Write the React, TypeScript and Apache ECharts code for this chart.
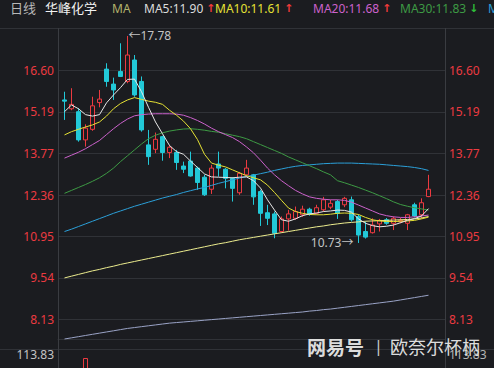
import React, { useEffect, useRef } from 'react';
import * as echarts from 'echarts';

// [open, close, low, high]
const candles: number[][] = [
  [15.60, 15.56, 14.92, 15.88],
  [15.30, 15.45, 15.25, 16.00],
  [15.20, 14.24, 14.18, 15.32],
  [14.24, 14.64, 14.01, 14.77],
  [14.60, 15.40, 14.55, 15.71],
  [15.51, 15.63, 15.35, 15.94],
  [16.65, 16.23, 16.05, 16.85],
  [16.14, 15.94, 15.60, 16.36],
  [16.57, 16.40, 16.38, 17.53],
  [16.23, 17.13, 16.17, 17.78],
  [16.96, 15.77, 15.71, 17.13],
  [16.23, 14.58, 14.52, 16.40],
  [14.07, 13.67, 13.39, 14.58],
  [13.92, 14.26, 13.79, 14.49],
  [14.35, 13.81, 13.53, 14.38],
  [13.81, 13.99, 13.62, 14.07],
  [13.81, 13.47, 13.22, 13.90],
  [13.35, 13.24, 13.11, 13.50],
  [13.52, 13.01, 12.99, 13.84],
  [13.28, 12.79, 12.54, 13.33],
  [12.97, 12.37, 12.33, 13.05],
  [12.56, 13.28, 12.40, 13.39],
  [13.42, 13.28, 12.99, 13.84],
  [13.24, 12.93, 12.59, 13.28],
  [12.93, 12.59, 12.14, 12.97],
  [12.44, 13.10, 12.37, 13.15],
  [13.05, 13.28, 12.97, 13.56],
  [13.05, 12.30, 12.03, 13.08],
  [12.48, 11.74, 11.31, 12.54],
  [11.76, 11.57, 11.34, 12.03],
  [11.72, 11.06, 10.89, 11.80],
  [11.12, 11.55, 11.08, 11.63],
  [11.55, 11.72, 11.15, 11.86],
  [11.57, 11.80, 11.52, 11.97],
  [11.69, 11.88, 11.62, 12.00],
  [11.88, 11.72, 11.66, 11.93],
  [11.74, 11.93, 11.70, 12.03],
  [11.86, 12.20, 11.80, 12.30],
  [11.95, 12.08, 11.88, 12.20],
  [12.14, 11.74, 11.55, 12.20],
  [12.03, 12.25, 11.95, 12.30],
  [12.20, 11.52, 11.46, 12.31],
  [11.63, 11.00, 10.73, 11.70],
  [11.12, 10.93, 10.88, 11.46],
  [11.08, 11.34, 11.05, 11.57],
  [11.38, 11.50, 11.12, 11.55],
  [11.52, 11.40, 11.35, 11.58],
  [11.40, 11.57, 11.17, 11.63],
  [11.45, 11.50, 11.40, 11.58],
  [11.40, 11.69, 11.17, 11.72],
  [12.03, 11.65, 11.60, 12.10],
  [11.69, 12.10, 11.57, 12.25],
  [12.31, 12.56, 12.29, 13.05],
];

const ma5 = [15.20, 15.43, 15.30, 15.10, 15.05, 15.10, 15.50, 15.77, 16.02, 16.30, 16.31, 15.88, 15.35, 14.85, 14.45, 14.05, 13.84, 13.75, 13.52, 13.30, 13.08, 12.98, 12.97, 12.96, 12.95, 12.97, 12.98, 12.85, 12.60, 12.20, 11.85, 11.52, 11.47, 11.55, 11.66, 11.72, 11.75, 11.80, 11.82, 11.85, 11.84, 11.78, 11.55, 11.40, 11.32, 11.28, 11.30, 11.34, 11.42, 11.50, 11.56, 11.65, 11.90];
const ma10 = [14.41, 14.52, 14.60, 14.68, 14.75, 14.85, 15.05, 15.30, 15.48, 15.60, 15.68, 15.62, 15.56, 15.52, 15.45, 15.25, 15.08, 14.88, 14.62, 14.25, 13.75, 13.45, 13.38, 13.32, 13.22, 13.12, 13.02, 12.95, 12.88, 12.70, 12.45, 12.18, 11.92, 11.80, 11.74, 11.70, 11.69, 11.69, 11.71, 11.74, 11.75, 11.74, 11.70, 11.60, 11.52, 11.48, 11.46, 11.46, 11.47, 11.48, 11.50, 11.55, 11.61];
const ma20 = [13.62, 13.72, 13.82, 13.94, 14.08, 14.22, 14.42, 14.62, 14.80, 14.95, 15.06, 15.10, 15.12, 15.13, 15.13, 15.13, 15.12, 15.08, 15.00, 14.90, 14.78, 14.64, 14.52, 14.42, 14.32, 14.18, 14.00, 13.80, 13.55, 13.28, 13.05, 12.85, 12.68, 12.52, 12.40, 12.30, 12.25, 12.22, 12.20, 12.20, 12.18, 12.12, 12.02, 11.92, 11.82, 11.72, 11.66, 11.62, 11.60, 11.60, 11.62, 11.65, 11.68];
const ma30 = [12.42, 12.52, 12.62, 12.72, 12.83, 12.95, 13.10, 13.28, 13.50, 13.70, 13.90, 14.10, 14.28, 14.40, 14.48, 14.54, 14.58, 14.61, 14.62, 14.60, 14.57, 14.53, 14.50, 14.45, 14.40, 14.35, 14.28, 14.18, 14.08, 13.98, 13.88, 13.78, 13.66, 13.56, 13.46, 13.36, 13.26, 13.15, 13.05, 12.85, 12.78, 12.70, 12.62, 12.53, 12.44, 12.34, 12.24, 12.13, 12.04, 11.98, 11.93, 11.89, 11.85];
const ma60 = [11.12, 11.20, 11.29, 11.38, 11.47, 11.56, 11.65, 11.74, 11.82, 11.90, 11.98, 12.05, 12.12, 12.19, 12.26, 12.32, 12.38, 12.45, 12.51, 12.57, 12.62, 12.69, 12.76, 12.82, 12.88, 12.94, 12.99, 13.04, 13.09, 13.14, 13.20, 13.25, 13.30, 13.34, 13.37, 13.39, 13.41, 13.43, 13.44, 13.45, 13.45, 13.45, 13.44, 13.43, 13.42, 13.41, 13.39, 13.37, 13.35, 13.33, 13.30, 13.26, 13.20];
const ma120 = [9.54, 9.60, 9.66, 9.72, 9.78, 9.83, 9.89, 9.94, 10.00, 10.05, 10.10, 10.15, 10.20, 10.25, 10.30, 10.35, 10.40, 10.45, 10.50, 10.55, 10.60, 10.65, 10.70, 10.74, 10.79, 10.84, 10.88, 10.92, 10.96, 11.00, 11.04, 11.08, 11.12, 11.16, 11.20, 11.24, 11.28, 11.31, 11.35, 11.38, 11.41, 11.43, 11.45, 11.47, 11.48, 11.49, 11.50, 11.51, 11.52, 11.53, 11.55, 11.58, 11.63];
const ma250 = [7.46, 7.50, 7.54, 7.58, 7.62, 7.66, 7.70, 7.74, 7.78, 7.82, 7.85, 7.88, 7.91, 7.94, 7.97, 8.00, 8.02, 8.04, 8.06, 8.08, 8.10, 8.12, 8.14, 8.16, 8.18, 8.20, 8.22, 8.24, 8.26, 8.28, 8.30, 8.32, 8.34, 8.36, 8.38, 8.41, 8.43, 8.46, 8.48, 8.51, 8.54, 8.57, 8.60, 8.63, 8.66, 8.69, 8.72, 8.75, 8.79, 8.83, 8.87, 8.91, 8.95];

const priceTicks = [8.13, 9.54, 10.95, 12.36, 13.77, 15.19, 16.60];
const volume: (number | null)[] = [null, null, null, 113.83];
const volMaxLabel = '113.83';
const stockName = '华峰化学';
const maHeader = [
  { text: 'MA5:11.90', arrow: '↑', color: '#dcdcdc', arrowColor: '#f03a3a', x: 144 },
  { text: 'MA10:11.61', arrow: '↑', color: '#e6e234', arrowColor: '#f03a3a', x: 215 },
  { text: 'MA20:11.68', arrow: '↑', color: '#cc62cc', arrowColor: '#f03a3a', x: 313 },
  { text: 'MA30:11.83', arrow: '↓', color: '#3d9a44', arrowColor: '#2fbf3a', x: 400 },
  { text: 'MA60:13.20', arrow: '', color: '#2b9fd8', arrowColor: '#2b9fd8', x: 488 },
];
const highLabel = { idx: 9, value: 17.78 };
const lowLabel = { idx: 42, value: 10.73 };

const BG = '#1b1c20';
const GRID = '#303237';
const RED = '#ec3a40';
const CYAN = '#22c9d8';
const FONT = 'Noto Sans, Noto Sans CJK SC, DejaVu Sans, sans-serif';

const X_MIN = -0.9286;
const X_MAX = 54.357;

export default function App() {
  const ref = useRef<HTMLDivElement>(null);
  useEffect(() => {
    if (!ref.current) return;
    const chart = echarts.init(ref.current, undefined, { renderer: 'svg' });
    const kData = candles.map((c, i) => [i, c[0], c[1], c[2], c[3]]);
    const line = (arr: number[], color: string, name: string) => ({
      type: 'line', name, xAxisIndex: 0, yAxisIndex: 0,
      data: arr.map((v, i) => [i, v]), showSymbol: false, symbol: 'none',
      lineStyle: { color, width: 1 }, silent: true, z: 3,
    });
    const headerTexts: any[] = [
      { type: 'text', left: 10, top: 1, style: { text: '日线', fill: '#b8b8b8', font: `13px ${FONT}` } },
      { type: 'text', left: 45, top: 1, style: { text: stockName, fill: '#f2f2f2', font: `13px ${FONT}` } },
      { type: 'text', left: 112, top: 2, style: { text: 'MA', fill: '#b3b36c', font: `12px ${FONT}` } },
    ];
    maHeader.forEach((m) => {
      headerTexts.push({
        type: 'text', left: m.x, top: 2,
        style: {
          text: `{t|${m.text}}` + (m.arrow ? `{a|${m.arrow}}` : ''),
          rich: {
            t: { fill: m.color, font: `12px ${FONT}` },
            a: { fill: m.arrowColor, font: `bold 11px DejaVu Sans`, padding: [0, 0, 0, 3] },
          },
        },
      });
    });
    chart.setOption({
      animation: false,
      backgroundColor: BG,
      grid: [
        { left: 58, right: 49, top: 28, height: 311.3 },
        { left: 58, right: 49, top: 358, height: 60 },
      ],
      xAxis: [
        { type: 'value', gridIndex: 0, min: X_MIN, max: X_MAX, axisLabel: { show: false }, axisTick: { show: false }, splitLine: { show: false }, axisLine: { show: true, onZero: false, lineStyle: { color: GRID } } },
        { type: 'value', gridIndex: 1, min: X_MIN, max: X_MAX, show: false },
      ],
      yAxis: [
        {
          type: 'value', gridIndex: 0, position: 'left', min: 7.45, max: 18.05,
          axisLine: { show: false }, axisTick: { show: false, customValues: priceTicks },
          axisLabel: { customValues: priceTicks, formatter: (v: number) => v.toFixed(2), color: RED, fontSize: 12, fontFamily: FONT, margin: 4 },
          splitLine: { show: true, lineStyle: { color: GRID, width: 1 } },
        },
        {
          type: 'value', gridIndex: 0, position: 'right', min: 7.45, max: 18.05,
          axisLine: { show: false }, axisTick: { show: false, customValues: priceTicks },
          axisLabel: { customValues: priceTicks, formatter: (v: number) => v.toFixed(2), color: RED, fontSize: 12, fontFamily: FONT, margin: 4 },
          splitLine: { show: false },
        },
        { type: 'value', gridIndex: 1, min: 0, max: 113.83, show: false },
      ],
      series: [
        line(ma250, '#9aa3c6', 'MA250'),
        line(ma120, '#ecec8e', 'MA120'),
        line(ma60, '#2b9fd8', 'MA60'),
        line(ma30, '#3d9a44', 'MA30'),
        line(ma20, '#cc62cc', 'MA20'),
        line(ma10, '#e6e234', 'MA10'),
        {
          type: 'candlestick', xAxisIndex: 0, yAxisIndex: 0, data: kData,
          encode: { x: 0, y: [1, 2, 3, 4] }, barWidth: 5, z: 2,
          itemStyle: { color: BG, color0: CYAN, borderColor: RED, borderColor0: CYAN, borderWidth: 1 },
          markPoint: {
            symbol: 'circle', symbolSize: 0, silent: true,
            data: [
              { coord: [highLabel.idx, highLabel.value], label: { show: true, position: 'right', distance: 1, formatter: '←' + highLabel.value.toFixed(2), color: '#c4c4c4', fontSize: 12, fontFamily: FONT } },
              { coord: [lowLabel.idx, lowLabel.value], label: { show: true, position: 'left', distance: 5, formatter: lowLabel.value.toFixed(2) + '→', color: '#c4c4c4', fontSize: 12, fontFamily: FONT } },
            ],
          },
        },
        line(ma5, '#e8e8e8', 'MA5'),
        {
          type: 'bar', xAxisIndex: 1, yAxisIndex: 2, barWidth: 5,
          data: volume.map((v, i) => [i, v]),
          itemStyle: { color: BG, borderColor: RED, borderWidth: 1 },
        },
      ],
      graphic: [
        ...headerTexts,
        { type: 'line', shape: { x1: 0, y1: 28.5, x2: 494, y2: 28.5 }, style: { stroke: GRID, lineWidth: 1 }, z: 1 },
        { type: 'line', shape: { x1: 0, y1: 349.5, x2: 494, y2: 349.5 }, style: { stroke: GRID, lineWidth: 1 }, z: 1 },
        { type: 'line', shape: { x1: 58.5, y1: 28, x2: 58.5, y2: 368 }, style: { stroke: '#3a3c41', lineWidth: 1 }, z: 1 },
        { type: 'line', shape: { x1: 445.5, y1: 28, x2: 445.5, y2: 368 }, style: { stroke: '#3a3c41', lineWidth: 1 }, z: 1 },
        { type: 'text', right: 440, top: 348, style: { text: volMaxLabel, fill: '#c4c4c4', font: `12px ${FONT}` } },
        { type: 'text', left: 449, top: 348, style: { text: volMaxLabel, fill: '#b4b4b4', font: `12px ${FONT}` } },
        { type: 'text', left: 307, top: 337, z: 100, style: { text: '网易号', fill: 'rgba(240,240,240,0.92)', font: `bold 19px Noto Sans CJK SC` } },
        { type: 'text', left: 374, top: 338, z: 100, style: { text: '|', fill: 'rgba(240,240,240,0.85)', font: `16px ${FONT}` } },
        { type: 'text', left: 390, top: 337, z: 100, style: { text: '欧奈尔杯柄', fill: 'rgba(240,240,240,0.92)', font: `18px Noto Sans CJK SC` } },
      ],
    });
    return () => chart.dispose();
  }, []);
  return <div ref={ref} style={{ width: 494, height: 368, position: 'fixed', left: 0, top: 0 }} />;
}
